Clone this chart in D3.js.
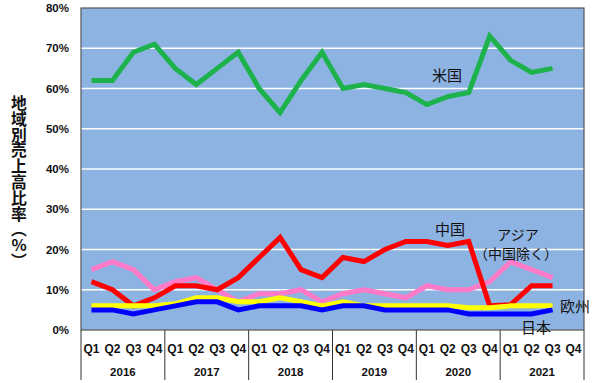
<!DOCTYPE html>
<html>
<head>
<meta charset="utf-8">
<script src="https://cdn.jsdelivr.net/npm/d3@7"></script>
<style>
  body { margin: 0; background: #fff; }
  text { font-family: "Liberation Sans", Arial, sans-serif; }
  .jp { font-family: "Noto Sans CJK JP", sans-serif; }
</style>
</head>
<body>
<div id="container"></div>
<script>
const years = ["2016", "2017", "2018", "2019", "2020", "2021"]
const quarters = ["Q1", "Q2", "Q3", "Q4"]
const yTicks = [0, 10, 20, 30, 40, 50, 60, 70, 80]

// 2016Q1 .. 2021Q3
const usa = [62, 62, 69, 71, 65, 61, 65, 69, 60, 54, 62, 69, 60, 61, 60, 59, 56, 58, 59, 73, 67, 64, 65]
const china = [12, 10, 6, 8, 11, 11, 10, 13, 18, 23, 15, 13, 18, 17, 20, 22, 22, 21, 22, 6, 6.3, 11, 11]
const asia = [15, 17, 15, 10, 12, 13, 10, 7, 9, 9, 10, 7, 9, 10, 9, 8, 11, 10, 10, 12, 17, 15, 13]
const europe = [6, 6, 6, 6, 6.5, 8, 8, 7, 7, 8, 7, 6, 7, 6, 6, 6, 6, 6, 5.5, 5.5, 6, 6, 6]
const japan = [5, 5, 4, 5, 6, 7, 7, 5, 6, 6, 6, 5, 6, 6, 5, 5, 5, 5, 4, 4, 4, 4, 5]

const width = 600, height = 383
const margin = { left: 81, right: 16, top: 8, bottom: 53 }

const svg = d3.select('#container').append('svg')
    .attr('width', width).attr('height', height)

const innerBottom = height - margin.bottom
const innerRight = width - margin.right

const cats = []
years.forEach(y => quarters.forEach(q => cats.push(y + q)))

const x = d3.scaleBand().domain(cats).range([margin.left, innerRight])
const y = d3.scaleLinear().domain([0, 80]).range([innerBottom, margin.top])

// plot background
svg.append('rect')
    .attr('x', margin.left).attr('y', margin.top)
    .attr('width', innerRight - margin.left).attr('height', innerBottom - margin.top)
    .attr('fill', '#8DB3E2')

// gridlines
svg.append('g').selectAll('line')
    .data(yTicks.filter(d => d > 0 && d < 80))
    .join('line')
    .attr('x1', margin.left).attr('x2', innerRight)
    .attr('y1', d => y(d)).attr('y2', d => y(d))
    .attr('stroke', '#fff').attr('stroke-width', 1.5)

// y tick labels
svg.append('g').selectAll('text')
    .data(yTicks)
    .join('text')
    .attr('x', 69).attr('y', d => y(d) + 4)
    .attr('text-anchor', 'end')
    .attr('font-size', 11.5).attr('font-weight', 'bold')
    .attr('fill', '#111')
    .text(d => d + '%')

// y axis title, vertical writing
svg.append('text')
    .attr('class', 'jp')
    .attr('x', 19).attr('y', 95)
    .style('writing-mode', 'vertical-rl')
    .style('text-orientation', 'upright')
    .attr('font-size', 15.8).attr('font-weight', 'bold')
    .attr('fill', '#111')
    .text('地域別売上高比率（%）')

// lines
const line = d3.line()
    .x((d, i) => x(cats[i]) + x.bandwidth() / 2)
    .y(d => y(d))

const series = [
    { data: asia, color: '#FF7AC8' },
    { data: china, color: '#FF0000' },
    { data: europe, color: '#FFFF00' },
    { data: japan, color: '#0000FF' },
    { data: usa, color: '#1DB24B' }
]
svg.append('g').selectAll('path')
    .data(series)
    .join('path')
    .attr('d', d => line(d.data))
    .attr('fill', 'none')
    .attr('stroke', d => d.color)
    .attr('stroke-width', 5)
    .attr('stroke-linejoin', 'miter')

// plot border
svg.append('rect')
    .attr('x', margin.left).attr('y', margin.top)
    .attr('width', innerRight - margin.left).attr('height', innerBottom - margin.top)
    .attr('fill', 'none').attr('stroke', '#555').attr('stroke-width', 1.2)

// x axis: quarter and year labels with separators
svg.append('g').selectAll('text')
    .data(cats)
    .join('text')
    .attr('x', d => x(d) + x.bandwidth() / 2)
    .attr('y', innerBottom + 23)
    .attr('text-anchor', 'middle')
    .attr('font-size', 12).attr('font-weight', 'bold')
    .attr('fill', '#111')
    .text(d => d.slice(4))

svg.append('g').selectAll('text')
    .data(years)
    .join('text')
    .attr('x', d => x(d + 'Q1') + x.bandwidth() * 2)
    .attr('y', innerBottom + 46)
    .attr('text-anchor', 'middle')
    .attr('font-size', 11.5).attr('font-weight', 'bold')
    .attr('fill', '#111')
    .text(d => d)

const sepX = years.map(d => x(d + 'Q1')).concat([innerRight])
svg.append('g').selectAll('line')
    .data(sepX)
    .join('line')
    .attr('x1', d => d).attr('x2', d => d)
    .attr('y1', innerBottom).attr('y2', height - 3)
    .attr('stroke', '#333').attr('stroke-width', 1)

// series labels
const labels = [
    { t: '米国', x: 447, y: 81, size: 15 },
    { t: '中国', x: 450, y: 235, size: 15 },
    { t: 'アジア', x: 518, y: 240, size: 14 },
    { t: '（中国除く）', x: 516, y: 259, size: 14 },
    { t: '欧州', x: 575, y: 312, size: 15 },
    { t: '日本', x: 536, y: 333, size: 15 }
]
svg.append('g').selectAll('text')
    .data(labels)
    .join('text')
    .attr('class', 'jp')
    .attr('x', d => d.x).attr('y', d => d.y)
    .attr('text-anchor', 'middle')
    .attr('font-size', d => d.size)
    .attr('fill', '#111')
    .text(d => d.t)
</script>
</body>
</html>
